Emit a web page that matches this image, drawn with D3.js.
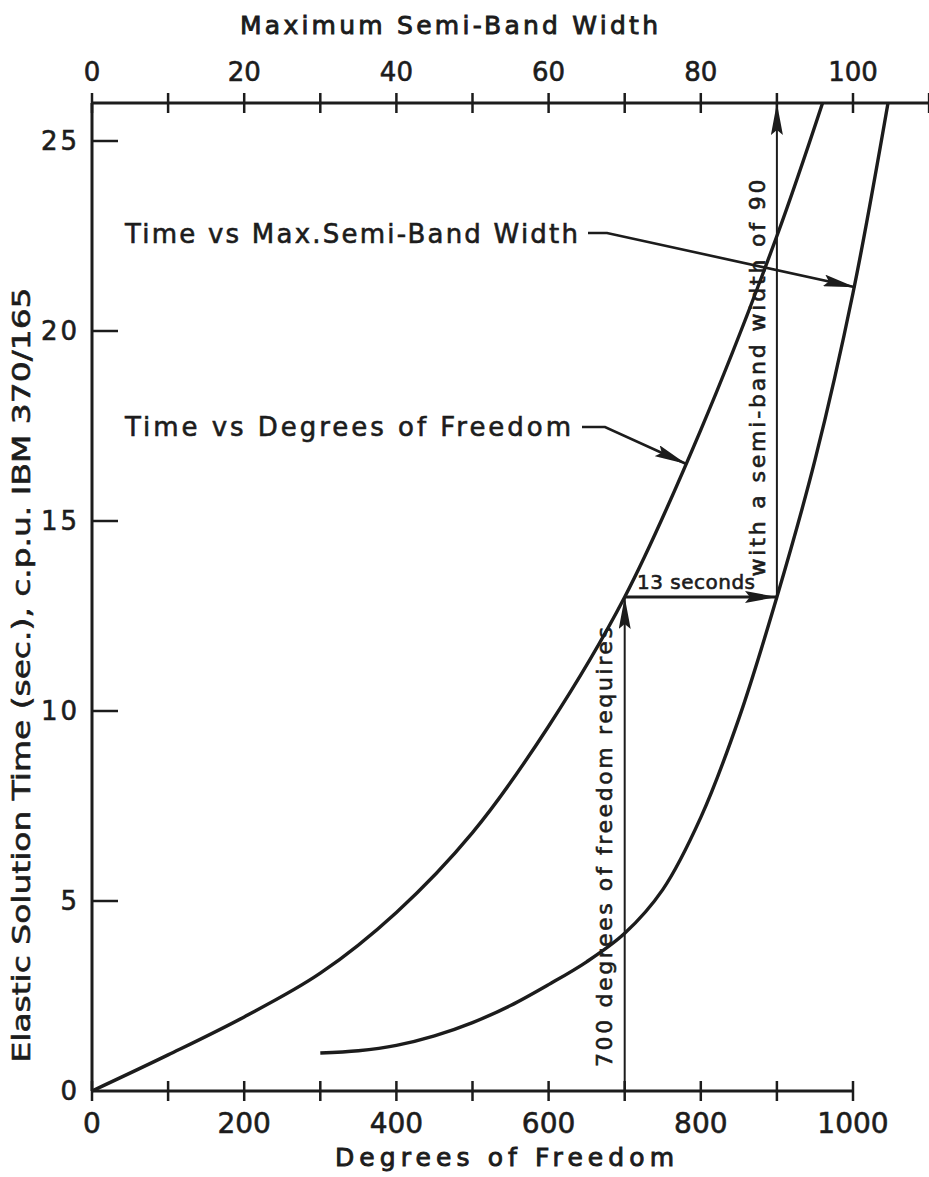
<!DOCTYPE html>
<html>
<head>
<meta charset="utf-8">
<script src="https://cdn.jsdelivr.net/npm/d3@7"></script>
<style>
  html, body { margin: 0; padding: 0; background: #fff; }
  svg { display: block; }
  text { font-family: "DejaVu Sans", sans-serif; fill: #1c1c1c; stroke: #1c1c1c; stroke-width: 0.6px; }
  text.title { stroke-width: 0.9px; }
</style>
</head>
<body>
<svg id="chart" width="929" height="1177"></svg>
<script>
// ---- Data ----
// Time vs Degrees of Freedom (bottom axis)
const dof      = [0, 100, 200, 300, 400, 500, 600, 700, 800, 900, 960];
const timeDof  = [0, 0.95, 1.95, 3.1, 4.7, 6.8, 9.6, 13.0, 17.4, 22.5, 26.0];
// Time vs Max. Semi-Band Width (top axis)
const semiBand     = [30, 35, 40, 45, 50, 55, 60, 65, 70, 75, 80, 85, 90, 95, 100, 104.6];
const timeSemiBand = [1.0, 1.06, 1.2, 1.45, 1.8, 2.25, 2.8, 3.4, 4.15, 5.3, 7.2, 9.8, 13.0, 16.6, 21.0, 26.0];

const bottomTicks       = [0, 100, 200, 300, 400, 500, 600, 700, 800, 900, 1000];
const bottomTickLabels  = [0, 200, 400, 600, 800, 1000];
const topTicks          = [0, 10, 20, 30, 40, 50, 60, 70, 80, 90, 100, 110];
const topTickLabels     = [0, 20, 40, 60, 80, 100];
const leftTicks         = [0, 5, 10, 15, 20, 25];

// Worked example: 700 dof -> 13 s -> semi-band width 90
const exDof = 700, exTime = 13, exSemiBand = 90;

// ---- Scales ----
const svg = d3.select("#chart");
const x    = d3.scaleLinear().domain([0, 1000]).range([92, 853]);
const xTop = d3.scaleLinear().domain([0, 100]).range([92, 853]);
const y    = d3.scaleLinear().domain([0, 26]).range([1091, 103]);

const ink = "#1c1c1c";

// Arrowhead marker
const defs = svg.append("defs");
defs.append("marker")
  .attr("id", "ah").attr("viewBox", "0 0 32 12")
  .attr("refX", 32).attr("refY", 6)
  .attr("markerWidth", 32).attr("markerHeight", 12)
  .attr("markerUnits", "userSpaceOnUse")
  .attr("orient", "auto")
  .append("path").attr("d", "M0,0 L32,6 L0,12 L5,6 Z").attr("fill", ink);

// ---- Axes ----
// bottom axis
const gB = svg.append("g").attr("transform", `translate(0,${y(0)})`);
gB.append("line").attr("x1", x(0)).attr("x2", x(1000)).attr("y1", 0).attr("y2", 0)
  .attr("stroke", ink).attr("stroke-width", 3);
gB.selectAll(".tk").data(bottomTicks).enter().append("line")
  .attr("x1", d => x(d)).attr("x2", d => x(d)).attr("y1", -10).attr("y2", 10)
  .attr("stroke", ink).attr("stroke-width", 2.5);
gB.selectAll(".lb").data(bottomTickLabels).enter().append("text")
  .attr("x", d => x(d)).attr("y", 42).attr("text-anchor", "middle")
  .attr("font-size", 28).text(d => d);
svg.append("text").attr("class", "title").attr("x", 335).attr("y", 1166)
  .attr("font-size", 25)
  .attr("textLength", 339).attr("lengthAdjust", "spacing")
  .text("Degrees of Freedom");

// top axis
const gT = svg.append("g").attr("transform", `translate(0,${y(26)})`);
gT.append("line").attr("x1", xTop(0)).attr("x2", 929).attr("y1", 0).attr("y2", 0)
  .attr("stroke", ink).attr("stroke-width", 3);
gT.selectAll(".tk").data(topTicks).enter().append("line")
  .attr("x1", d => xTop(d)).attr("x2", d => xTop(d)).attr("y1", -10).attr("y2", 10)
  .attr("stroke", ink).attr("stroke-width", 2.5);
gT.selectAll(".lb").data(topTickLabels).enter().append("text")
  .attr("x", d => xTop(d)).attr("y", -22).attr("text-anchor", "middle")
  .attr("font-size", 26).text(d => d);
svg.append("text").attr("class", "title").attr("x", 240).attr("y", 34)
  .attr("font-size", 25)
  .attr("textLength", 418).attr("lengthAdjust", "spacing")
  .text("Maximum Semi-Band Width");

// left axis
const gL = svg.append("g").attr("transform", `translate(${x(0)},0)`);
gL.append("line").attr("x1", 0).attr("x2", 0).attr("y1", y(0)).attr("y2", y(26))
  .attr("stroke", ink).attr("stroke-width", 3);
gL.selectAll(".tk").data(leftTicks.filter(d => d > 0)).enter().append("line")
  .attr("x1", 0).attr("x2", 26).attr("y1", d => y(d)).attr("y2", d => y(d))
  .attr("stroke", ink).attr("stroke-width", 2.5);
gL.selectAll(".lb").data(leftTicks).enter().append("text")
  .attr("x", -12).attr("y", d => y(d)).attr("dy", "0.36em")
  .attr("text-anchor", "end").attr("font-size", 26).attr("letter-spacing", 3)
  .text(d => d);
svg.append("text")
  .attr("transform", `translate(30,675) rotate(-90)`)
  .attr("text-anchor", "middle").attr("font-size", 25)
  .attr("textLength", 775).attr("lengthAdjust", "spacingAndGlyphs")
  .text("Elastic Solution Time (sec.), c.p.u. IBM 370/165");

// ---- Curves ----
const lineDof = d3.line().x((d, i) => x(dof[i])).y((d, i) => y(timeDof[i])).curve(d3.curveCatmullRom);
svg.append("path").datum(dof).attr("d", lineDof)
  .attr("fill", "none").attr("stroke", ink).attr("stroke-width", 3.4);

const lineSB = d3.line().x((d, i) => xTop(semiBand[i])).y((d, i) => y(timeSemiBand[i])).curve(d3.curveCatmullRom);
svg.append("path").datum(semiBand).attr("d", lineSB)
  .attr("fill", "none").attr("stroke", ink).attr("stroke-width", 3.4);

// ---- Worked example arrows ----
function arrow(x1, y1, x2, y2, w) {
  svg.append("line").attr("x1", x1).attr("y1", y1).attr("x2", x2).attr("y2", y2)
    .attr("stroke", ink).attr("stroke-width", w || 2).attr("marker-end", "url(#ah)");
}
arrow(x(exDof), y(0), x(exDof), y(exTime));
arrow(x(exDof), y(exTime), xTop(exSemiBand), y(exTime), 2.8);
arrow(xTop(exSemiBand), y(exTime), xTop(exSemiBand), y(26));

svg.append("text").attr("x", 637).attr("y", 589).attr("font-size", 20)
  .attr("textLength", 118).attr("lengthAdjust", "spacing").text("13 seconds");
svg.append("text")
  .attr("transform", `translate(${x(exDof) - 20},847) rotate(-90)`)
  .attr("text-anchor", "middle").attr("dominant-baseline", "central")
  .attr("font-size", 22).attr("textLength", 440).attr("lengthAdjust", "spacing")
  .text("700 degrees of freedom requires");
svg.append("text")
  .attr("transform", `translate(${xTop(exSemiBand) - 19},378) rotate(-90)`)
  .attr("text-anchor", "middle").attr("dominant-baseline", "central")
  .attr("font-size", 22).attr("textLength", 397).attr("lengthAdjust", "spacing")
  .text("with a semi-band width of 90");

// ---- Curve labels with leader arrows ----
svg.append("text").attr("x", 125).attr("y", 243).attr("font-size", 26)
  .attr("textLength", 453).attr("lengthAdjust", "spacing")
  .text("Time vs Max.Semi-Band Width");
svg.append("text").attr("x", 125).attr("y", 436).attr("font-size", 26)
  .attr("textLength", 446).attr("lengthAdjust", "spacing")
  .text("Time vs Degrees of Freedom");

svg.append("path")
  .attr("d", `M588,233 L607,233 L${xTop(100.3)},${y(21.15)}`)
  .attr("fill", "none").attr("stroke", ink).attr("stroke-width", 2.6)
  .attr("marker-end", "url(#ah)");
svg.append("path")
  .attr("d", `M582,427 L605,427 L${x(781)},${y(16.5)}`)
  .attr("fill", "none").attr("stroke", ink).attr("stroke-width", 2.6)
  .attr("marker-end", "url(#ah)");
</script>
</body>
</html>
